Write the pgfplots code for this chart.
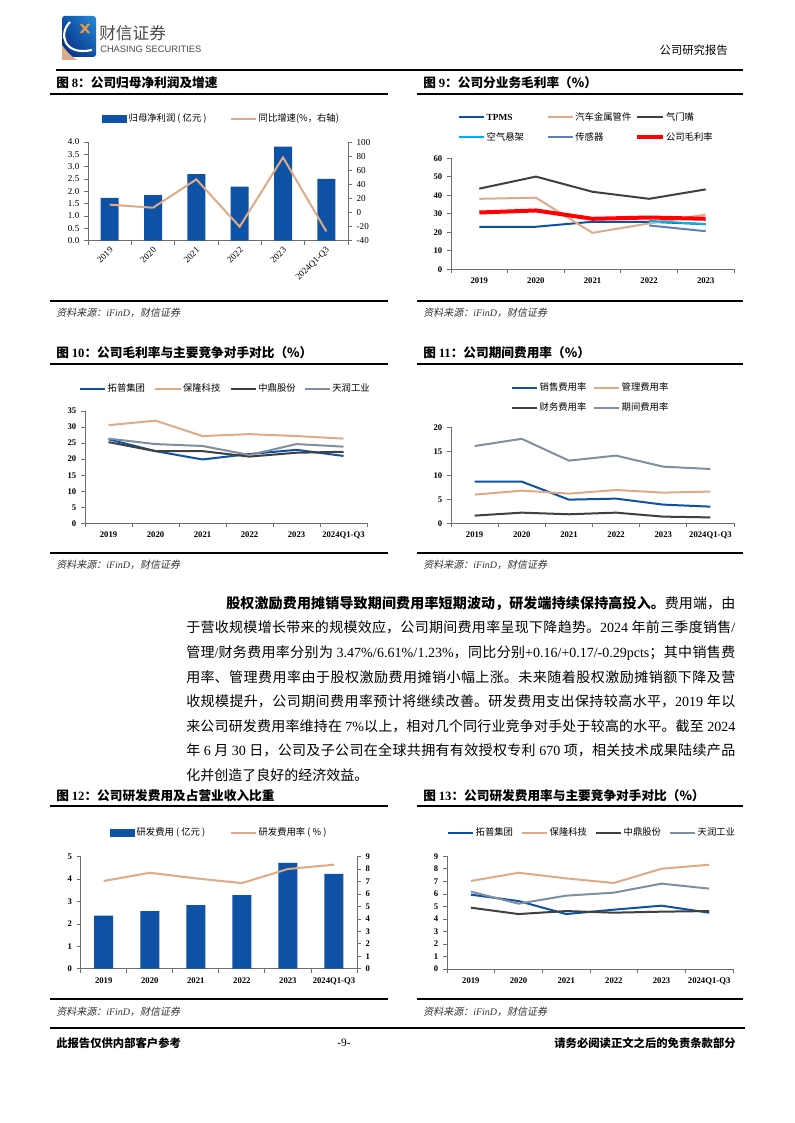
\documentclass[border=0pt]{standalone}
\usepackage{fontspec}
\setmainfont{Noto Sans CJK SC}
\newfontfamily\tm{Liberation Serif}
\newfontfamily\lsans{Liberation Sans}
\newfontfamily\cjkit[FakeSlant=0.2]{Noto Sans CJK SC}
\usepackage{pgfplots}
\usetikzlibrary{shadings}
\pgfplotsset{compat=1.18}
\XeTeXlinebreaklocale "zh"
\XeTeXlinebreakskip=0pt plus 1pt minus 0.3pt
\definecolor{cblue}{RGB}{13,82,164}
\definecolor{ctan}{RGB}{222,170,135}
\definecolor{cdark}{RGB}{64,64,64}
\definecolor{cgray}{RGB}{128,142,162}
\definecolor{ccyan}{RGB}{0,176,240}
\definecolor{csteel}{RGB}{92,128,184}
\definecolor{axgray}{RGB}{110,110,110}
\definecolor{cnavy}{RGB}{10,40,130}
\definecolor{clight}{RGB}{40,140,220}
\definecolor{corange}{RGB}{240,150,60}
\pgfplotsset{
 pg/.style={
  scale only axis, anchor=south west, clip=false,
  axis x line*=bottom, axis y line*=left,
  axis line style={axgray, line width=0.6pt},
  tick style={axgray, line width=0.6pt},
  tick align=outside, major tick length=3pt, minor tick length=3pt,
  xmin=-0.5, xmax=5.5, xtick={0,...,5},
  minor xtick={-0.5,0.5,...,5.5},
  major x tick style={draw=none},
  /pgf/number format/assume math mode=true,
  tick label style={font=\tm\bfseries\fontsize{6.5}{7}\selectfont, text=black},
  legend cell align=left,
  legend style={draw=none, fill=none, inner sep=0pt, outer sep=0pt, anchor=west,
    font=\fontsize{7}{8}\selectfont,
    nodes={inner sep=1pt, text height=5.5pt, text depth=1.5pt},
    /tikz/every even column/.append style={column sep=0pt}, row sep=6pt},
  legend image code/.code={\draw[#1] (0pt,0pt) -- (19pt,0pt);},
 },
}
\begin{document}
\begin{tikzpicture}[x=0.75pt,y=-0.75pt]
\path[use as bounding box,fill=white] (0,0) rectangle (794,1123);
% ---------- header ----------
\shade[lower left=cnavy, upper right=clight, lower right=cblue, upper left=cblue, rounded corners=2pt] (62,16) rectangle (96,57);
\fill[ctan] (62,45) -- (62,60) -- (77,60) to[bend left=10] cycle;
\draw[white, line width=1.6pt] (70,22) .. controls (58,34) and (64,56) .. (92,50);
\draw[corange, line width=1.6pt] (81,24) -- (89,33) (89,24) -- (81,33);
\node[anchor=west, inner sep=0pt, font=\fontsize{12.5}{13}\selectfont, text=black!70] at (99,33) {财信证券};
\node[anchor=west, inner sep=0pt, font=\lsans\fontsize{7}{7}\selectfont, text=black!70] at (100,49) {CHASING SECURITIES};
\node[anchor=east, inner sep=0pt, font=\fontsize{8.5}{9}\selectfont] at (728,50) {公司研究报告};
\draw[line width=1.1pt] (56,70) -- (743,70);
% ---------- titles ----------
\node[anchor=west, inner sep=0pt, font=\bfseries\fontsize{9.5}{10}\selectfont] at (56,83) {图 {\tm 8}：公司归母净利润及增速};
\node[anchor=west, inner sep=0pt, font=\bfseries\fontsize{9.5}{10}\selectfont] at (423,83) {图 {\tm 9}：公司分业务毛利率（\%）};
\draw[line width=0.9pt] (50,94) -- (388,94);
\draw[line width=0.9pt] (417,94) -- (743,94);
\node[anchor=west, inner sep=0pt, font=\bfseries\fontsize{9.5}{10}\selectfont] at (56,353) {图 {\tm 10}：公司毛利率与主要竞争对手对比（\%）};
\node[anchor=west, inner sep=0pt, font=\bfseries\fontsize{9.5}{10}\selectfont] at (423,353) {图 {\tm 11}：公司期间费用率（\%）};
\draw[line width=0.9pt] (50,364) -- (388,364);
\draw[line width=0.9pt] (417,364) -- (743,364);
\node[anchor=west, inner sep=0pt, font=\bfseries\fontsize{9.5}{10}\selectfont] at (56,796) {图 {\tm 12}：公司研发费用及占营业收入比重};
\node[anchor=west, inner sep=0pt, font=\bfseries\fontsize{9.5}{10}\selectfont] at (423,796) {图 {\tm 13}：公司研发费用率与主要竞争对手对比（\%）};
\draw[line width=0.9pt] (50,806) -- (388,806);
\draw[line width=0.9pt] (417,806) -- (743,806);
% ---------- sources ----------
\foreach \yy/\ys in {301/313, 553/565, 999/1012}{
  \draw[line width=0.9pt] (50,\yy) -- (388,\yy);
  \draw[line width=0.9pt] (417,\yy) -- (743,\yy);
  \node[anchor=west, inner sep=0pt, font=\cjkit\fontsize{7.5}{8}\selectfont, text=black!80] at (56,\ys) {资料来源：{\tm\itshape iFinD}，财信证券};
  \node[anchor=west, inner sep=0pt, font=\cjkit\fontsize{7.5}{8}\selectfont, text=black!80] at (423,\ys) {资料来源：{\tm\itshape iFinD}，财信证券};
}
% ---------- footer ----------
\draw[line width=1.3pt] (50,1028) -- (745,1028);
\node[anchor=west, inner sep=0pt, font=\bfseries\fontsize{8.5}{9}\selectfont] at (56,1043) {此报告仅供内部客户参考};
\node[anchor=center, inner sep=0pt, font=\tm\fontsize{8.5}{9}\selectfont] at (344,1043) {-9-};
\node[anchor=east, inner sep=0pt, font=\bfseries\fontsize{8.5}{9}\selectfont] at (736,1043) {请务必阅读正文之后的免责条款部分};
% ---------- body text ----------
\node[anchor=north west, inner sep=0pt, text width=411.75pt, align=justify, font=\fontsize{10.5}{18.43}\selectfont] at (186,596) {%
\hspace*{30pt}{\bfseries 股权激励费用摊销导致期间费用率短期波动，研发端持续保持高投入。}费用端，由\linebreak
于营收规模增长带来的规模效应，公司期间费用率呈现下降趋势。{\tm 2024} 年前三季度销售{\tm /}\linebreak
管理{\tm /}财务费用率分别为 {\tm 3.47\%/6.61\%/1.23\%}，同比分别{\tm +0.16/+0.17/-0.29pcts}；其中销售费\linebreak
用率、管理费用率由于股权激励费用摊销小幅上涨。未来随着股权激励摊销额下降及营\linebreak
收规模提升，公司期间费用率预计将继续改善。研发费用支出保持较高水平，{\tm 2019} 年以\linebreak
来公司研发费用率维持在 {\tm 7\%}以上，相对几个同行业竞争对手处于较高的水平。截至 {\tm 2024}\linebreak
年 {\tm 6} 月 {\tm 30} 日，公司及子公司在全球共拥有有效授权专利 {\tm 670} 项，相关技术成果陆续产品\linebreak
化并创造了良好的经济效益。};
% ---------- anchors ----------
\coordinate (o8) at (88,240.7);
\coordinate (o9) at (451,269.3);
\coordinate (o10) at (85,523.3);
\coordinate (o11) at (451,523.3);
\coordinate (o12) at (80.7,968.7);
\coordinate (o13) at (447,969);
% ---------- chart 8 ----------
\begin{axis}[pg, at={(o8)}, width=195pt, height=74pt, ymin=0, ymax=4, ytick={0,0.5,...,4},
  yticklabel style={/pgf/number format/fixed, /pgf/number format/fixed zerofill, /pgf/number format/precision=1},
  xticklabels={2019,2020,2021,2022,2023,2024Q1-Q3},
  tick label style={font=\tm\fontsize{6.8}{7}\selectfont},
  xticklabel style={rotate=45, anchor=east, inner sep=1pt, yshift=-3pt},
  legend columns=2, legend style={at={(0.054,1.233)}}]
\addplot[ybar, bar width=13.5pt, fill=cblue, draw=none, legend image code/.code={\fill[cblue] (0pt,-3pt) rectangle (19pt,3pt);}] coordinates {(0,1.74)(1,1.85)(2,2.70)(3,2.19)(4,3.81)(5,2.51)};
\addlegendentry{\makebox[75pt][l]{归母净利润 ( 亿元 )}}
\addlegendimage{ctan, line width=1.5pt}
\addlegendentry{同比增速(\%，右轴)}
\end{axis}
\begin{axis}[pg, at={(o8)}, width=195pt, height=74pt, axis x line=none, axis y line*=right,
  ymin=-40, ymax=100, ytick={-40,-20,...,100},
  tick label style={font=\tm\fontsize{6.8}{7}\selectfont}]
\addplot[ctan, line width=1.5pt] coordinates {(0,11.1)(1,6.8)(2,47)(3,-20.1)(4,78.2)(5,-26.8)};
\end{axis}
% ---------- chart 9 ----------
\begin{axis}[pg, at={(o9)}, width=212.25pt, height=83.25pt, xmin=-0.5, xmax=4.5, xtick={0,...,4},
  minor xtick={-0.5,0.5,...,4.5}, xticklabels={2019,2020,2021,2022,2023},
  ymin=0, ymax=60, ytick={0,10,...,60}, legend columns=3, legend style={at={(0.025,1.2775)}}]
\addplot[cblue, line width=1.5pt] coordinates {(0,23)(1,23)(2,25.7)(3,25.7)(4,24.4)};
\addlegendentry{\makebox[44pt][l]{\tm\bfseries TPMS}}
\addplot[ctan, line width=1.5pt] coordinates {(0,38.1)(1,38.7)(2,19.7)(3,24.8)(4,29.6)};
\addlegendentry{\makebox[44pt][l]{汽车金属管件}}
\addplot[cdark, line width=1.5pt] coordinates {(0,43.6)(1,50.1)(2,41.9)(3,38.1)(4,43.2)};
\addlegendentry{气门嘴}
\addplot[ccyan, line width=1.5pt] coordinates {(3,26.2)(4,24.4)};
\addlegendentry{\makebox[44pt][l]{空气悬架}}
\addplot[csteel, line width=1.5pt] coordinates {(3,23.7)(4,20.6)};
\addlegendentry{\makebox[44pt][l]{传感器}}
\addplot[red, line width=3pt] coordinates {(0,30.7)(1,31.8)(2,27.3)(3,28.0)(4,27.3)};
\addlegendentry{公司毛利率}
\end{axis}
% ---------- chart 10 ----------
\begin{axis}[pg, at={(o10)}, width=211.5pt, height=84.2pt,
  xticklabels={2019,2020,2021,2022,2023,2024Q1-Q3},
  ymin=0, ymax=35, ytick={0,5,...,35}, legend columns=4, legend style={at={(-0.021,1.196)}}]
\addplot[cblue, line width=1.5pt] coordinates {(0,26.2)(1,22.5)(2,19.9)(3,21.6)(4,22.9)(5,21.0)};
\addlegendentry{\makebox[34pt][l]{拓普集团}}
\addplot[ctan, line width=1.5pt] coordinates {(0,30.6)(1,32.0)(2,27.2)(3,27.8)(4,27.2)(5,26.4)};
\addlegendentry{\makebox[34pt][l]{保隆科技}}
\addplot[cdark, line width=1.5pt] coordinates {(0,25.3)(1,22.5)(2,22.5)(3,20.8)(4,22.0)(5,22.3)};
\addlegendentry{\makebox[33pt][l]{中鼎股份}}
\addplot[cgray, line width=1.5pt] coordinates {(0,26.4)(1,24.7)(2,24.1)(3,21.3)(4,24.7)(5,23.9)};
\addlegendentry{天润工业}
\end{axis}
% ---------- chart 11 ----------
\begin{axis}[pg, at={(o11)}, width=212.25pt, height=72pt,
  xticklabels={2019,2020,2021,2022,2023,2024Q1-Q3},
  ymin=0, ymax=20, ytick={0,5,...,20}, legend columns=2, legend style={at={(0.212,1.31)}}]
\addplot[cblue, line width=1.5pt] coordinates {(0,8.68)(1,8.68)(2,4.93)(3,5.14)(4,3.89)(5,3.47)};
\addlegendentry{\makebox[39pt][l]{销售费用率}}
\addplot[ctan, line width=1.5pt] coordinates {(0,5.97)(1,6.8)(2,6.18)(3,6.94)(4,6.39)(5,6.61)};
\addlegendentry{管理费用率}
\addplot[cdark, line width=1.5pt] coordinates {(0,1.6)(1,2.22)(2,1.88)(3,2.22)(4,1.39)(5,1.23)};
\addlegendentry{\makebox[39pt][l]{财务费用率}}
\addplot[cgray, line width=1.5pt] coordinates {(0,16.1)(1,17.6)(2,13.06)(3,14.1)(4,11.8)(5,11.31)};
\addlegendentry{期间费用率}
\end{axis}
% ---------- chart 12 ----------
\begin{axis}[pg, at={(o12)}, width=207.2pt, height=84pt, ymin=0, ymax=5, ytick={0,...,5},
  xticklabels={2019,2020,2021,2022,2023,2024Q1-Q3},
  legend columns=2, legend style={at={(0.106,1.212)}}]
\addplot[ybar, bar width=14.25pt, fill=cblue, draw=none, legend image code/.code={\fill[cblue] (0pt,-3pt) rectangle (19pt,3pt);}] coordinates {(0,2.37)(1,2.57)(2,2.84)(3,3.29)(4,4.72)(5,4.23)};
\addlegendentry{\makebox[69pt][l]{研发费用 ( 亿元 )}}
\addlegendimage{ctan, line width=1.5pt}
\addlegendentry{研发费用率 ( \% )}
\end{axis}
\begin{axis}[pg, at={(o12)}, width=207.2pt, height=84pt, axis x line=none, axis y line*=right,
  ymin=0, ymax=9, ytick={0,...,9}]
\addplot[ctan, line width=1.5pt] coordinates {(0,7.05)(1,7.71)(2,7.26)(3,6.88)(4,8.01)(5,8.36)};
\end{axis}
% ---------- chart 13 ----------
\begin{axis}[pg, at={(o13)}, width=214.5pt, height=84.5pt,
  xticklabels={2019,2020,2021,2022,2023,2024Q1-Q3},
  ymin=0, ymax=9, ytick={0,...,9}, legend columns=4, legend style={at={(0,1.207)}}]
\addplot[cblue, line width=1.5pt] coordinates {(0,5.94)(1,5.43)(2,4.39)(3,4.74)(4,5.06)(5,4.5)};
\addlegendentry{\makebox[33pt][l]{拓普集团}}
\addplot[ctan, line width=1.5pt] coordinates {(0,7.03)(1,7.69)(2,7.24)(3,6.87)(4,8.01)(5,8.33)};
\addlegendentry{\makebox[33pt][l]{保隆科技}}
\addplot[cdark, line width=1.5pt] coordinates {(0,4.9)(1,4.39)(2,4.63)(3,4.5)(4,4.58)(5,4.63)};
\addlegendentry{\makebox[33pt][l]{中鼎股份}}
\addplot[cgray, line width=1.5pt] coordinates {(0,6.18)(1,5.22)(2,5.86)(3,6.1)(4,6.82)(5,6.42)};
\addlegendentry{天润工业}
\end{axis}
\end{tikzpicture}
\end{document}
